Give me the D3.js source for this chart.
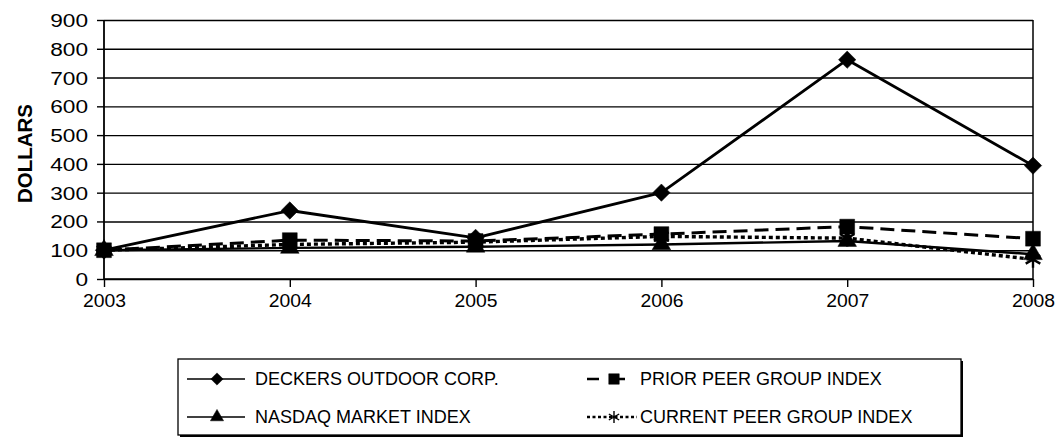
<!DOCTYPE html>
<html><head><meta charset="utf-8">
<script src="https://cdn.jsdelivr.net/npm/d3@7"></script>
<style>
body{margin:0;background:#fff}
svg{display:block;font-family:"Liberation Sans",Arial,Helvetica,sans-serif}
</style></head>
<body><svg id="c" width="1057" height="440"></svg>
<script>
// ---- data ----
const years = ["2003","2004","2005","2006","2007","2008"];
const deckers = [100, 238, 143, 300, 762, 394];
const priorPeer = [100, 135, 132, 156, 182, 140];
const nasdaq = [100, 108, 112, 120, 132, 86];
const currentPeer = [100, 120, 128, 148, 142, 68];
const yTicks = [0, 100, 200, 300, 400, 500, 600, 700, 800, 900];
const seriesNames = ["DECKERS OUTDOOR CORP.", "PRIOR PEER GROUP INDEX", "NASDAQ MARKET INDEX", "CURRENT PEER GROUP INDEX"];
const yTitle = "DOLLARS";

// ---- layout ----
const svg = d3.select("#c");
const L = 104, R = 1033, T = 20, B = 279;
const x = d3.scalePoint().domain(years).range([L, R]);
const y = d3.scaleLinear().domain([0, 900]).range([B, T]);

// grid lines (full width) + left stubs
const gGrid = svg.append("g").attr("transform", `translate(${L},0)`)
  .call(d3.axisLeft(y).tickValues(yTicks).tickSizeInner(-(R - L)).tickSizeOuter(0).tickFormat(""));
gGrid.select(".domain").remove();
gGrid.selectAll(".tick line").attr("stroke", "#000").attr("stroke-width", 1.4);

const gY = svg.append("g").attr("transform", `translate(${L},0)`)
  .call(d3.axisLeft(y).tickValues(yTicks).tickSizeInner(7).tickSizeOuter(0).tickPadding(0));
gY.select(".domain").remove();
gY.selectAll(".tick line").attr("stroke", "#000").attr("stroke-width", 1.4);
gY.selectAll(".tick text")
  .attr("x", -16).attr("dy", "0.36em")
  .attr("font-size", 18).attr("fill", "#000")
  .attr("text-anchor", "end")
  .attr("textLength", d => String(d).length * 12.6)
  .attr("lengthAdjust", "spacingAndGlyphs");

// x axis
const gX = svg.append("g").attr("transform", `translate(0,${B})`)
  .call(d3.axisBottom(x).tickSizeInner(8).tickSizeOuter(0));
gX.select(".domain").remove();
gX.selectAll(".tick line").attr("stroke", "#000").attr("stroke-width", 1.4);
gX.selectAll(".tick text")
  .attr("y", 28).attr("dy", 0)
  .attr("font-size", 18).attr("fill", "#000")
  .attr("textLength", 43).attr("lengthAdjust", "spacingAndGlyphs");

// frame lines (left axis and right edge)
svg.append("line").attr("x1", L).attr("x2", L).attr("y1", y(900)).attr("y2", y(0))
  .attr("stroke", "#000").attr("stroke-width", 1.8);
svg.append("line").attr("x1", R).attr("x2", R).attr("y1", y(900)).attr("y2", y(0))
  .attr("stroke", "#000").attr("stroke-width", 1.5);
svg.append("line").attr("x1", L).attr("x2", R).attr("y1", y(0)).attr("y2", y(0))
  .attr("stroke", "#000").attr("stroke-width", 1.5);

// y title
svg.append("text")
  .attr("transform", `translate(32,${(T + B) / 2 + 4}) rotate(-90)`)
  .attr("text-anchor", "middle")
  .attr("font-size", 21).attr("font-weight", "bold").attr("fill", "#000")
  .attr("textLength", 99).attr("lengthAdjust", "spacingAndGlyphs")
  .text(yTitle);

// ---- series ----
const series = [
  {name: seriesNames[0], values: deckers, dash: null, width: 2.8, sym: d3.symbolSquare, size: 150, rot: 45, filled: true},
  {name: seriesNames[1], values: priorPeer, dash: "14,7", width: 3, sym: d3.symbolSquare, size: 220, rot: 0, filled: true},
  {name: seriesNames[2], values: nasdaq, dash: null, width: 2.4, sym: d3.symbolTriangle, size: 150, rot: 0, filled: true},
  {name: seriesNames[3], values: currentPeer, dash: "4,3", width: 3.4, sym: d3.symbolAsterisk, size: 200, rot: 0, filled: false}
];

const line = d3.line().x((d, i) => x(years[i])).y(d => y(d));

series.forEach(s => {
  svg.append("path").datum(s.values)
    .attr("d", line).attr("fill", "none").attr("stroke", "#000")
    .attr("stroke-width", s.width).attr("stroke-dasharray", s.dash)
    .attr("stroke-linejoin", "round");
});
series.forEach(s => {
  svg.append("g").selectAll("path").data(s.values).join("path")
    .attr("d", d3.symbol().type(s.sym).size(s.size))
    .attr("transform", (d, i) => `translate(${x(years[i])},${y(d)}) rotate(${s.rot})`)
    .attr("fill", s.filled ? "#000" : "none")
    .attr("stroke", "#000").attr("stroke-width", s.filled ? 0.5 : 2.4);
});

// ---- legend ----
const LX0 = 178, LX1 = 961, LY0 = 359, LY1 = 435;
const lg = svg.append("g");
lg.append("rect").attr("x", LX0 + 2).attr("y", LY0 + 2).attr("width", LX1 - LX0).attr("height", LY1 - LY0).attr("fill", "#000");
lg.append("rect").attr("x", LX0).attr("y", LY0).attr("width", LX1 - LX0).attr("height", LY1 - LY0)
  .attr("fill", "#fff").attr("stroke", "#000").attr("stroke-width", 1.3);

const colX = [187, 587];
const rowY = [379, 417];
const swatchW = 58;
series.forEach((s, i) => {
  const col = i % 2, row = Math.floor(i / 2);
  const g = lg.append("g").attr("transform", `translate(${colX[col]},${rowY[row]})`);
  g.append("line").attr("x1", 0).attr("x2", swatchW - (col ? 8 : 0)).attr("y1", 0).attr("y2", 0)
    .attr("stroke", "#000").attr("stroke-width", col ? 2.6 : 1.6)
    .attr("stroke-dasharray", col ? (i === 1 ? "12,14" : "3,2.5") : null);
  g.append("path")
    .attr("d", d3.symbol().type(s.sym).size(s.size * 0.5))
    .attr("transform", `translate(${col ? 27 : 30},0) rotate(${s.rot})`)
    .attr("fill", s.filled ? "#000" : "none")
    .attr("stroke", "#000").attr("stroke-width", s.filled ? 0.5 : 1.4);
  g.append("text").attr("x", col ? 53 : 68).attr("dy", "0.36em")
    .attr("font-size", 18).attr("fill", "#000").text(s.name);
});
</script>
</body></html>
